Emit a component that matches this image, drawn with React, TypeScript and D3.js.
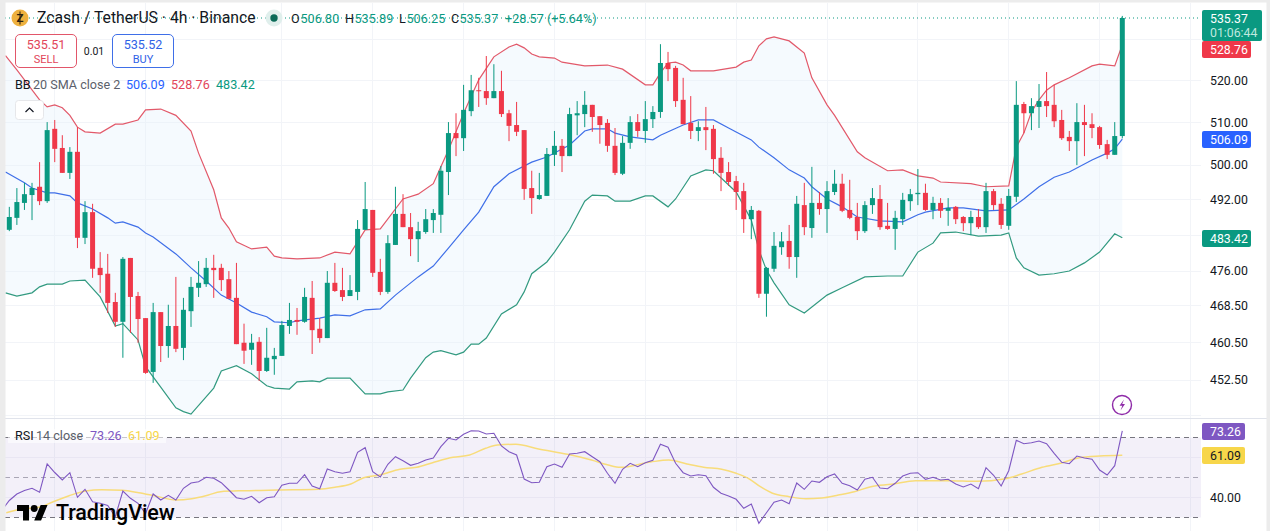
import React from "react";
import * as d3 from "d3";

const opens = [485.2,487.9,491.3,493.1,495.0,491.7,508.5,504.0,498.2,503.1,483.4,489.2,476.7,475.4,469.2,464.9,478.9,470.5,465.7,454.2,467.0,459.7,464.0,459.3,467.2,472.3,473.1,476.7,476.7,474.2,470.1,460.4,458.9,460.6,454.4,456.9,457.6,464.0,465.3,464.9,470.1,463.4,461.4,473.4,471.8,470.5,471.4,485.2,489.7,475.8,471.4,481.8,488.8,485.8,483.1,484.7,487.4,488.6,498.4,507.5,506.3,512.7,517.7,517.5,515.8,517.5,512.2,509.4,508.2,494.7,492.2,492.9,502.4,504.5,502.1,511.7,512.0,514.2,511.5,509.9,504.5,498.0,505.2,510.1,508.0,510.8,512.5,524.3,523.1,515.4,509.9,508.0,508.9,508.5,501.7,498.4,496.3,494.0,487.6,489.5,471.0,476.5,481.3,482.7,479.1,490.8,485.6,491.3,489.9,493.8,495.7,489.7,488.1,484.9,490.8,492.2,486.1,485.4,487.6,491.7,493.3,493.6,489.7,491.3,489.5,490.4,488.1,486.7,488.1,485.8,494.0,491.1,486.1,492.7,514.4,512.2,513.7,515.1,514.2,510.6,506.6,505.6,510.1,509.6,508.9,504.9,502.4,506.8];
const highs = [490.4,494.7,495.9,495.9,500.7,510.1,510.6,507.0,504.2,508.9,491.7,491.1,480.2,479.8,471.2,479.1,478.9,471.4,465.7,469.0,467.0,468.6,474.7,470.1,474.7,478.2,478.9,479.6,477.6,476.0,477.8,464.5,462.3,461.6,463.6,459.3,465.1,469.0,467.9,472.3,473.8,465.7,476.0,477.8,476.7,475.1,487.4,496.1,489.7,478.7,484.0,495.0,493.3,489.0,487.0,489.9,489.9,499.8,510.1,512.2,519.0,521.4,520.7,526.0,524.0,522.4,513.0,514.9,508.2,498.7,498.2,504.0,508.0,506.1,513.5,515.1,517.5,514.2,511.5,510.8,508.7,506.8,511.5,512.0,515.1,513.9,528.9,527.0,523.6,520.7,516.3,510.3,513.7,509.4,504.2,500.7,497.5,495.9,490.6,489.7,476.9,484.7,484.7,486.3,492.9,495.9,499.6,493.8,496.3,498.9,498.0,496.6,491.3,491.7,494.7,495.4,491.3,489.5,493.6,494.5,499.1,495.7,492.7,492.4,492.4,490.6,488.3,489.5,489.9,495.9,494.5,492.4,494.5,519.9,514.9,515.8,519.2,522.1,519.0,513.0,508.0,514.6,514.2,512.2,509.2,505.9,510.1,535.89];
const lows = [484.9,486.3,489.7,487.4,490.8,491.3,500.7,498.2,496.8,481.1,482.0,474.5,471.2,466.8,463.8,457.2,462.5,460.4,453.8,451.9,456.3,457.2,458.4,456.7,463.8,470.3,472.5,470.1,471.6,469.9,460.1,455.9,455.7,452.3,454.2,453.6,457.6,462.3,462.1,464.7,458.0,460.4,461.4,471.4,469.4,470.5,469.6,485.2,474.7,470.7,471.0,481.8,485.8,479.3,478.0,484.3,484.5,484.5,493.1,502.1,503.3,511.5,513.7,514.2,515.8,511.3,505.6,506.8,492.0,488.8,492.0,492.9,499.8,498.4,502.1,507.0,508.9,507.8,505.0,503.1,497.7,497.7,503.8,506.6,505.2,508.7,511.1,519.9,513.7,509.6,506.1,505.6,503.5,498.0,494.0,495.2,489.7,484.5,483.1,470.1,466.0,475.8,479.6,476.5,474.5,484.0,483.4,488.6,484.5,493.1,489.2,487.6,482.9,484.5,488.8,485.2,485.2,480.7,486.3,489.5,490.8,489.5,487.6,487.9,486.1,486.5,484.9,484.0,485.4,484.5,489.7,485.4,485.2,491.5,507.5,508.2,508.7,511.3,508.9,505.9,503.3,500.0,502.1,506.3,503.8,501.4,502.4,506.25];
const closes = [488.1,491.5,493.3,494.7,491.7,508.2,503.8,498.2,503.1,483.4,489.2,476.5,475.1,469.0,464.9,478.7,470.3,465.5,454.0,467.0,459.7,464.0,459.1,467.5,472.5,473.4,476.7,476.2,474.0,469.9,460.1,458.7,460.4,454.4,457.2,457.6,464.2,465.3,464.9,470.3,463.1,461.4,473.4,471.6,470.3,471.8,485.4,489.9,475.6,471.4,482.2,488.8,485.8,483.1,484.9,487.6,489.0,498.7,507.5,506.3,513.0,517.7,517.5,515.8,517.5,512.0,509.2,507.8,494.5,492.4,493.1,502.6,504.5,502.1,512.0,512.2,514.2,511.3,509.4,504.5,498.2,505.2,510.1,508.0,510.8,512.5,524.3,522.8,515.1,509.6,508.0,508.9,508.2,501.4,498.2,496.1,493.8,487.6,489.7,471.0,476.7,481.6,482.6,479.1,491.1,485.8,491.3,489.9,494.0,495.7,489.5,487.9,484.9,490.8,492.4,485.8,485.4,487.9,492.0,493.3,493.6,489.7,491.3,489.5,490.15,487.6,486.7,488.1,485.8,494.0,490.8,486.3,492.9,514.2,512.2,513.9,515.1,513.9,510.3,506.3,505.6,510.1,509.4,508.7,504.7,502.4,506.8,535.37];

const upperIdx = [-0.5,1,4,5,6,7,8,9,10,12,14,15,17,18,20,22,24,25,27,28,29,30,32,34,35,36,38,41,43,45,47,49,52,54,56,57,58,60,62,64,66,67,68,69,70,72,73,76,79,81,84,85,86,87,88,89,90,93,96,97,98,99,100,101,103,105,106,108,109,112,113,116,118,120,122,123,127,129,132,133,134,135,136,137,138,140,143,144,146,147];
const upperVals = [526.1,522.6,515.4,513.7,514.2,513.5,511.7,508.9,507.8,507.5,509.6,509.6,510.6,513.0,513.2,511.7,508.0,502.8,494.3,487.9,485.6,482.5,480.9,481.3,479.3,478.9,478.7,478.9,480.2,479.8,485.2,485.4,492.2,493.3,495.7,499.6,503.5,512.2,520.2,525.8,528.2,528.9,528.0,526.5,525.8,525.5,524.5,523.6,523.8,522.8,519.0,519.0,521.9,524.3,524.5,523.8,522.4,522.4,523.3,524.5,525.0,528.5,530.2,530.7,529.7,526.7,520.7,514.2,511.7,503.1,501.7,498.7,498.9,497.5,497.0,496.1,495.7,495.0,495.2,504.2,507.5,512.5,515.4,517.7,519.0,520.7,523.6,524.0,523.6,528.76];
const middleIdx = [-0.5,2,3,5,6,8,9,11,13,14,15,17,18,19,22,24,26,28,30,32,34,35,37,38,41,43,45,47,49,51,54,56,58,60,62,64,66,69,71,74,76,77,79,80,82,85,86,89,91,93,95,98,99,101,103,105,106,108,110,112,115,118,120,121,124,126,129,132,134,136,138,140,143,145,146,147];
const middleVals = [498.4,495.9,494.7,493.6,493.6,492.9,491.3,489.9,487.9,486.7,487.0,485.8,484.5,483.6,479.8,476.7,473.8,470.7,469.0,467.0,466.0,464.9,464.7,465.1,465.7,466.4,466.2,467.5,467.7,470.7,474.7,477.1,481.1,485.2,489.2,495.0,498.0,500.7,501.9,504.7,508.0,508.5,508.5,507.5,506.6,505.9,507.0,509.4,510.6,510.6,508.7,505.9,504.2,501.7,498.9,497.0,495.0,492.2,490.4,488.1,487.2,487.0,488.6,489.2,490.15,490.15,489.5,489.7,492.2,495.0,497.2,498.4,501.2,502.8,503.8,506.09];
const lowerIdx = [-0.5,1,3,4,5,7,8,10,12,14,15,17,18,20,22,23,24,27,28,30,32,34,35,37,38,40,41,42,45,47,49,50,52,53,55,56,57,59,60,61,62,63,65,67,68,69,71,72,74,76,77,79,80,82,84,85,87,88,90,92,93,96,98,99,100,101,103,105,108,110,113,116,118,120,122,123,125,128,131,132,133,134,136,138,140,142,144,146,147];
const lowerVals = [471.2,470.5,471.2,472.5,473.1,473.1,473.8,474.0,470.3,464.0,464.5,461.0,455.3,451.0,446.7,445.9,445.4,450.8,454.4,455.5,453.8,451.3,450.8,450.6,452.1,452.3,452.1,452.9,452.9,449.6,449.6,450.0,450.4,452.9,457.2,458.4,458.7,457.8,458.4,460.1,460.1,461.4,466.6,468.6,471.4,475.4,478.0,480.2,485.2,491.7,493.1,492.9,491.7,491.7,492.9,492.9,490.4,492.2,497.5,498.9,498.7,493.8,487.4,480.7,476.2,473.4,468.6,466.8,470.7,472.3,474.7,474.9,474.9,480.2,482.2,484.5,484.7,483.8,484.0,484.5,478.9,476.7,475.1,475.4,476.0,477.8,480.2,484.3,483.42];

const rsiStart = -1;
const rsiVals = [33.5,38.5,41.75,43.5,44.6,42.6,56.75,52.5,48.75,52.4,40.1,44.1,37.9,37.1,36,30.4,43.25,39.6,37.1,32,41.75,38.75,41.1,38.75,44.6,47.25,47.9,50.1,49.6,47.4,43.75,39.9,39.1,40.6,37.4,39.9,40.4,46.1,47.1,47.1,51.4,45.75,44.4,54.25,52.9,52.1,52.9,62.6,64.9,52.9,50.25,56.6,60.4,58.4,56.1,57.1,58.75,59.75,65.4,69.6,68.75,71.6,73.4,73.25,71.75,72.1,65.75,62.9,61.25,49.25,47.4,47.6,55.4,56.75,55.1,61.75,62.1,62.9,60.4,57.9,52.1,47.1,54.1,57.1,55.4,57.4,58.6,66.6,65.1,57.1,52.4,50.75,51.4,50.9,45.1,42.1,40.75,39.1,34.6,36.75,27.1,32.4,37.6,38.75,36.9,47.25,44.1,48.25,47.6,50.4,51.75,47.1,45.9,43.75,49.1,50.1,44.75,44.4,47.1,50.75,52.1,52.4,49.1,50.1,48.75,49.1,46.75,45.25,46.75,44.4,54.9,51.1,45.75,53.4,68.6,66.9,67.4,68.25,66.9,62.1,57.6,56.9,60.75,59.75,59.1,53.75,51.25,55.9,73.26];
const rsiMaIdx = [-0.4,1.5,4.2,5.8,7.9,10.1,12.2,14.9,17.1,19.3,22,24.1,26.3,27.9,31.1,35.4,40.8,43,45.1,46.8,48.9,51.6,53.8,55.9,58.6,60.8,62.9,64.5,66.9,69.9,73.7,76.9,79.1,80.7,84.7,87.1,89.5,91.7,94.1,96,97.6,99.2,100.8,103,105.2,107.3,109.5,111.6,113.8,116.5,119.7,124,127.8,131.6,133.7,136.4,139.1,141.3,144,147];
const rsiMaVals = [32.4,34.1,35.4,37.9,40.9,43.25,43.9,43.6,42.4,40.75,38.75,39.4,41.25,42.9,43.4,43.75,44.1,45.1,46.75,49.9,51.25,54.1,55.1,57.4,60.1,61.25,64.6,66.25,66.6,64.25,61.6,58.75,56.25,55.1,57.75,58.75,56.75,55.1,54.1,52.1,49.6,45.4,42.1,40.4,39.4,39.75,41.25,42.9,45.4,46.6,48.4,48.4,48.1,49.4,51.75,55.1,57.4,59.9,60.75,61.09];

const priceTicks = [520, 510, 500, 492, 476, 468.5, 460.5, 452.5];
const priceGrid = [530, 520, 510, 500, 492, 484, 476, 468.5, 460.5, 452.5, 445];
const timeGrid = [6, 18, 36, 48, 60, 72, 84, 96, 108, 120, 132, 144, 156];
const rsiBands = [70, 50, 30];
const rsiGrid = [60, 40];

const lastClose = 535.37, bbBasis = 506.09, bbUpper = 528.76, bbLower = 483.42, rsiNow = 73.26, rsiMa = 61.09;

const GREEN = "#0a9981", RED = "#ef3849", BLUE = "#2962ff", PURPLE = "#7e57c2", YELLOW = "#f7d64a";
const FONT = "Roboto, sans-serif";

const left = 5, right = 1201;
const x = d3.scaleLinear().domain([0, 147]).range([9.3, 1122.3]);
const y = d3.scaleLog().domain([535.37, 452.5]).range([18, 380]);
const r = d3.scaleLinear().domain([70, 30]).range([437.5, 517.5]);

const pts = (ids: number[], vals: number[]) => ids.map((d, i) => [x(d), y(vals[i])] as [number, number]);
const line = d3.line();
const upperPts = pts(upperIdx, upperVals);
const lowerPts = pts(lowerIdx, lowerVals);
const middlePts = pts(middleIdx, middleVals);
const bandPath = line([...upperPts, ...[...lowerPts].reverse()]) + "Z";
const rsiPath = line(rsiVals.map((v, i) => [x(i + rsiStart), r(v)] as [number, number])) as string;
const rsiMaPath = d3.line().curve(d3.curveMonotoneX)(rsiMaIdx.map((d, i) => [x(d), r(rsiMaVals[i])] as [number, number])) as string;

function PriceTag({ value, color, h = 17, w = 49, fg = "#fff", yPos }: { value: string; color: string; h?: number; w?: number; fg?: string; yPos: number }) {
  return (
    <g>
      <rect x={1202} y={yPos - h / 2} width={w} height={h} rx={2} fill={color} />
      <text x={1210} y={yPos + 4.3} fontSize={12.3} fill={fg} fontFamily={FONT}>{value}</text>
    </g>
  );
}

export default function App() {
  return (
    <svg width={1270} height={531} viewBox="0 0 1270 531" style={{ position: "absolute", left: 0, top: 0, display: "block", background: "#fff" }}>
      <defs>
        <clipPath id="plot"><rect x={left} y={0} width={right - left} height={531} /></clipPath>
      </defs>

      <g stroke="#f2f4f8" strokeWidth={1} shapeRendering="crispEdges">
        {priceGrid.map(p => <line key={p} x1={left} x2={right} y1={y(p)} y2={y(p)} />)}
        {timeGrid.map(t => <line key={t} x1={x(t)} x2={x(t)} y1={3} y2={531} />)}
      </g>

      <g clipPath="url(#plot)">
        <path d={bandPath} fill="#e3f2fd" fillOpacity={0.36} />
        <path d={line(upperPts) as string} fill="none" stroke="#e2596a" strokeWidth={1.2} />
        <path d={line(middlePts) as string} fill="none" stroke="#3f6fe8" strokeWidth={1.2} />
        <path d={line(lowerPts) as string} fill="none" stroke="#329a80" strokeWidth={1.2} />

        {opens.map((o, i) => {
          const c = closes[i];
          const col = c >= o ? GREEN : RED;
          const top = y(Math.max(o, c));
          const bot = y(Math.min(o, c));
          return (
            <g key={i} fill={col} stroke="none">
              <rect x={x(i) - 0.5} width={1} y={y(highs[i])} height={y(lows[i]) - y(highs[i])} />
              <rect x={x(i) - 2.5} width={5} y={top} height={Math.max(1, bot - top)} />
            </g>
          );
        })}

        <line x1={left} x2={right} y1={y(lastClose)} y2={y(lastClose)} stroke={GREEN} strokeWidth={1} strokeDasharray="1 3" />

        <rect x={left} y={r(70)} width={right - left} height={r(30) - r(70)} fill={PURPLE} fillOpacity={0.09} />
        {rsiGrid.map(p => <line key={p} x1={left} x2={right} y1={r(p)} y2={r(p)} stroke="#e9e6f3" strokeWidth={1} shapeRendering="crispEdges" />)}
        {rsiBands.map(b => (
          <line key={b} x1={left} x2={right} y1={r(b)} y2={r(b)} stroke={b === 50 ? "#a9a6b5" : "#77767f"} strokeWidth={1} strokeDasharray="5 4" shapeRendering="crispEdges" />
        ))}
        <path d={rsiMaPath} fill="none" stroke="#f8dc7a" strokeWidth={1.5} />
        <path d={rsiPath} fill="none" stroke={PURPLE} strokeWidth={1.1} />
      </g>

      <line x1={5} x2={1270} y1={418} y2={418} stroke="#e0e3eb" strokeWidth={1} shapeRendering="crispEdges" />

      <rect x={0} y={0} width={1270} height={2.5} fill="#ececec" />
      <rect x={0} y={0} width={5.5} height={531} fill="#ececec" />
      <rect x={1266.5} y={0} width={3.5} height={531} fill="#ececec" />

      <g fontFamily={FONT}>
        <circle cx={20} cy={18} r={8.5} fill="#eeb13f" />
        <text x={20} y={22} textAnchor="middle" fontSize={11.5} fontWeight={700} fill="#2b2110">Z</text>
        <line x1={20} x2={20} y1={11.5} y2={24.5} stroke="#2b2110" strokeWidth={1} />
        <text x={37} y={23.3} fontSize={15.75} fill="#131722">Zcash / TetherUS · 4h · Binance</text>
        <circle cx={274} cy={18} r={8.5} fill="#e0efec" />
        <circle cx={274} cy={18} r={3.7} fill="#0b6b58" />

        <g fontSize={12.6}>
          <text x={291} y={23} fill="#131722">O</text>
          <text x={300.5} y={23} fill={GREEN}>506.80</text>
          <text x={345} y={23} fill="#131722">H</text>
          <text x={354.5} y={23} fill={GREEN}>535.89</text>
          <text x={399} y={23} fill="#131722">L</text>
          <text x={406.5} y={23} fill={GREEN}>506.25</text>
          <text x={451} y={23} fill="#131722">C</text>
          <text x={459.5} y={23} fill={GREEN}>535.37</text>
          <text x={505} y={23} fill={GREEN}>+28.57 (+5.64%)</text>
        </g>

        <rect x={15.5} y={34.5} width={61} height={33} rx={4.5} fill="#fff" stroke="#e2566a" strokeWidth={1} />
        <text x={46} y={48.5} textAnchor="middle" fontSize={12.6} fill="#e2455a">535.51</text>
        <text x={46} y={62.5} textAnchor="middle" fontSize={11} fill="#e2455a">SELL</text>
        <text x={94} y={54.5} textAnchor="middle" fontSize={10.5} fill="#131722">0.01</text>
        <rect x={112.5} y={34.5} width={61} height={33} rx={4.5} fill="#fff" stroke="#3f6fe8" strokeWidth={1} />
        <text x={143} y={48.5} textAnchor="middle" fontSize={12.6} fill="#2f62e6">535.52</text>
        <text x={143} y={62.5} textAnchor="middle" fontSize={11} fill="#2f62e6">BUY</text>

        <g fontSize={12.6}>
          <text x={15} y={89} fill="#131722">BB</text>
          <text x={33} y={89} fill="#5b5f6b">20 SMA close 2</text>
          <text x={126} y={89} fill={BLUE}>{bbBasis}</text>
          <text x={171} y={89} fill="#e2455a">{bbUpper}</text>
          <text x={216} y={89} fill={GREEN}>{bbLower}</text>
        </g>

        <rect x={15.5} y={100.5} width={28} height={19} rx={3} fill="#fff" stroke="#e6e7ea" />
        <path d="M25.5 112 L29.5 108 L33.5 112" fill="none" stroke="#131722" strokeWidth={1.2} />

        <rect x={8} y={429} width={158} height={14} fill="#fff" fillOpacity={0.6} />
        <g fontSize={12.6}>
          <text x={15} y={440} fill="#131722">RSI</text>
          <text x={36} y={440} fill="#5b5f6b">14 close</text>
          <text x={90} y={440} fill={PURPLE}>{rsiNow}</text>
          <text x={128} y={440} fill={YELLOW}>{rsiMa}</text>
        </g>

        <g fontSize={12.3} fill="#131722">
          {priceTicks.map(t => (
            <text key={t} x={1210} y={y(t) + 4.3}>{t.toFixed(2)}</text>
          ))}
          <text x={1210} y={r(40) + 4.3}>40.00</text>
        </g>

        <rect x={1202} y={10} width={60} height={31} rx={2} fill={GREEN} />
        <text x={1210} y={22.5} fontSize={12.3} fill="#fff">{lastClose}</text>
        <text x={1210} y={36.5} fontSize={12.3} fill="#bfe8df">01:06:44</text>
        <PriceTag value={String(bbUpper)} color={RED} yPos={49.5} />
        <PriceTag value={String(bbBasis)} color={BLUE} yPos={139.5} />
        <PriceTag value={String(bbLower)} color={GREEN} yPos={238.5} />
        <PriceTag value={String(rsiNow)} color={PURPLE} w={43} yPos={431.5} />
        <PriceTag value={String(rsiMa)} color={YELLOW} w={43} fg="#131722" yPos={455.5} />

        <circle cx={1122} cy={405} r={9.5} fill="#fff" stroke="#8e2aa8" strokeWidth={1.4} />
        <path d="M1124 399.5 L1119.5 405.8 L1122.3 405.8 L1120.5 410.5 L1125 404 L1122.2 404 Z" fill="#8e2aa8" />

        <g transform="translate(17 501.6) scale(0.86)" fill="#000">
          <path d="M14 22H7V11H0V4h14v18ZM28 22h-8l7.5-18h8L28 22Z" />
          <circle cx={20} cy={8} r={4} />
        </g>
        <text x={56} y={520} fontSize={21.5} fontWeight={500} fill="#000" letterSpacing={-0.1}>TradingView</text>
      </g>
    </svg>
  );
}
